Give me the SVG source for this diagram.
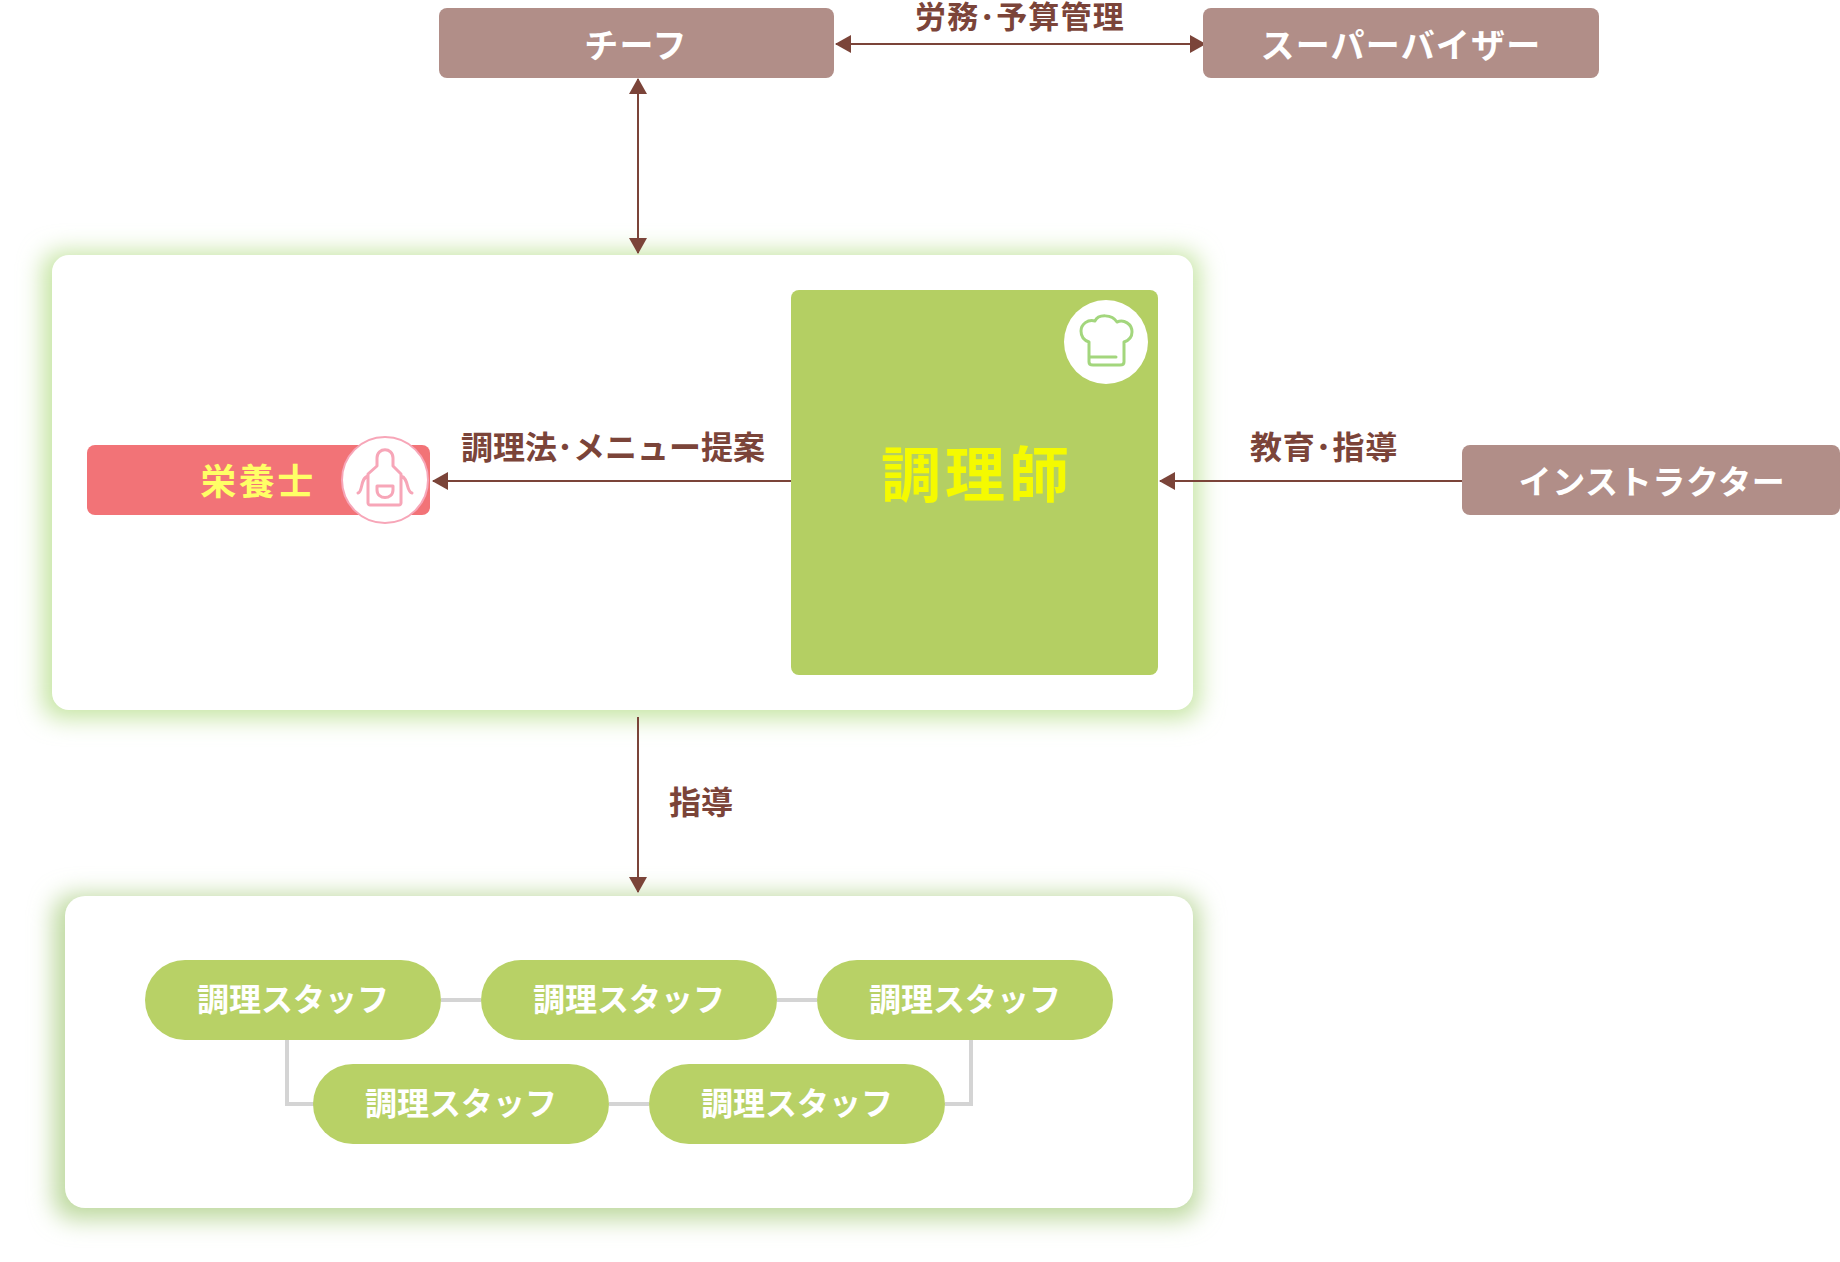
<svg xmlns="http://www.w3.org/2000/svg" width="1840" height="1262" viewBox="0 0 1840 1262">
<style>
text{font-family:"Noto Sans CJK JP","Noto Sans CJK SC",sans-serif;font-weight:700;text-anchor:middle}
.role{fill:#b18e88}
.w{fill:#fff;font-size:34px;letter-spacing:1.2px}
.s{fill:#fff;font-size:32px}
.lb{fill:#7b4439;font-size:32px}
.pill{fill:#b8d166}
.a{stroke:#7b4439;stroke-width:2;fill:none}
.g{stroke:#d4d4d4;stroke-width:4;fill:none}
.ic{fill:none;stroke-width:3;stroke-linecap:round;stroke-linejoin:round}
</style>
<defs>
<filter id="glow" x="-10%" y="-15%" width="120%" height="130%"><feMorphology operator="dilate" radius="6"/><feGaussianBlur stdDeviation="12"/></filter>
<marker id="h" viewBox="0 0 16 18" refX="15" refY="9" markerWidth="16" markerHeight="18" markerUnits="userSpaceOnUse" orient="auto-start-reverse"><path d="M0 0L16 9L0 18Z" fill="#7b4439"/></marker>
</defs>
<rect x="0" y="0" width="1840" height="1262" fill="#fff"/>
<g id="card-main"><rect x="49" y="258" width="1144" height="454" rx="17" fill="#c4e4a0" filter="url(#glow)"/><rect x="52" y="255" width="1141" height="455" rx="17" fill="#fff"/></g>
<g id="card-staff"><rect x="60" y="901" width="1133" height="312" rx="20" fill="#bcd89c" filter="url(#glow)"/><rect x="65" y="896" width="1128" height="312" rx="20" fill="#fff"/></g>
<g id="connectors">
<path class="a" d="M836 44H1205" marker-start="url(#h)" marker-end="url(#h)"/>
<path class="a" d="M638 79V253" marker-start="url(#h)" marker-end="url(#h)"/>
<path class="a" d="M791 481H433" marker-end="url(#h)"/>
<path class="a" d="M1462 481H1160" marker-end="url(#h)"/>
<path class="a" d="M638 717V892" marker-end="url(#h)"/>
<path class="g" d="M441 1000H481M777 1000H817M287 1040V1104H314M609 1104H649M945 1104H971V1040"/>
</g>
<g id="chief"><rect class="role" x="439" y="8" width="395" height="70" rx="8"/><text class="w" x="636" y="58">チーフ</text></g>
<g id="supervisor"><rect class="role" x="1203" y="8" width="396" height="70" rx="8"/><text class="w" x="1401" y="58">スーパーバイザー</text></g>
<g id="instructor"><rect class="role" x="1462" y="445" width="378" height="70" rx="8"/><text class="w" style="font-size:33px;letter-spacing:.6px" x="1652" y="494">インストラクター</text></g>
<g id="chef"><rect x="791" y="290" width="367" height="385" rx="8" fill="#b4cf63"/><text x="977" y="497" font-size="60" fill="#f5fa00" letter-spacing="4">調理師</text>
<circle cx="1106" cy="342" r="42" fill="#fff"/>
<path class="ic" stroke="#a3d67d" d="M1089 342C1083 340 1081 336 1081 331C1081 324 1088 319 1095 321C1098 314 1112 314 1117 322C1124 319 1132 324 1132 332C1132 336 1130 340 1124 342V362C1124 364 1122 365 1120 365H1093C1091 365 1089 364 1089 362ZM1090 357H1116"/>
</g>
<g id="nutritionist"><rect x="87" y="445" width="343" height="70" rx="8" fill="#f27377"/><text x="258" y="495" font-size="36" fill="#ffff66" letter-spacing="2.5">栄養士</text>
<circle cx="385" cy="480" r="43" fill="#fff" stroke="#f7a6b8" stroke-width="2"/>
<path class="ic" stroke="#f7a6b8" d="M377 466V458C377 447 393 447 393 458V466L401 474V503C401 504 400 505 399 505H370C369 505 368 504 368 503V474ZM377 486H393V490C393 500 377 500 377 490ZM368 476C360 478 363 492 358 493M401 476C409 478 406 492 412 493"/>
</g>
<g id="staff1"><rect class="pill" x="145" y="960" width="296" height="80" rx="40"/><text class="s" x="293" y="1011">調理スタッフ</text></g>
<g id="staff2"><rect class="pill" x="481" y="960" width="296" height="80" rx="40"/><text class="s" x="629" y="1011">調理スタッフ</text></g>
<g id="staff3"><rect class="pill" x="817" y="960" width="296" height="80" rx="40"/><text class="s" x="965" y="1011">調理スタッフ</text></g>
<g id="staff4"><rect class="pill" x="313" y="1064" width="296" height="80" rx="40"/><text class="s" x="461" y="1115">調理スタッフ</text></g>
<g id="staff5"><rect class="pill" x="649" y="1064" width="296" height="80" rx="40"/><text class="s" x="797" y="1115">調理スタッフ</text></g>
<g id="labels">
<text class="lb" x="1020" y="28" style="font-size:31px;letter-spacing:1.2px">労務･予算管理</text>
<text class="lb" x="613" y="459">調理法･メニュー提案</text>
<text class="lb" x="1324" y="459" style="letter-spacing:.8px">教育･指導</text>
<text class="lb" x="701" y="814">指導</text>
</g>
</svg>
